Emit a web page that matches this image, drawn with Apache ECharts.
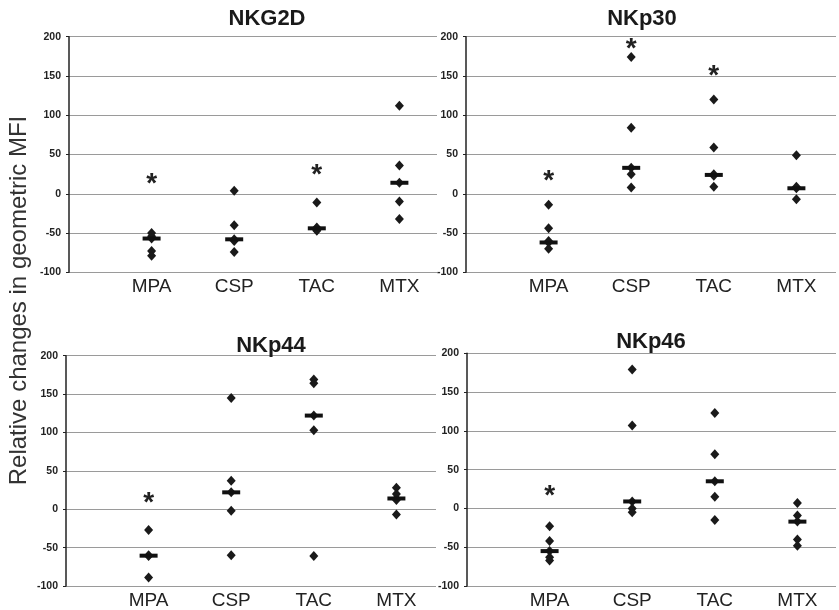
<!DOCTYPE html>
<html>
<head>
<meta charset="utf-8">
<script src="https://cdn.jsdelivr.net/npm/echarts@6/dist/echarts.min.js"></script>
<style>html,body{margin:0;padding:0;background:#fff}#c{width:839px;height:610px}</style>
</head>
<body>
<div id="c"></div>
<script>
const categories = ['MPA', 'CSP', 'TAC', 'MTX'];
const panelTitles = ['NKG2D', 'NKp30', 'NKp44', 'NKp46'];
const yAxisName = 'Relative changes in geometric MFI';
const yMin = -100, yMax = 200, yStep = 50;

// individual values per category (MPA, CSP, TAC, MTX)
const nkg2dPoints = [[-50, -54, -57, -73, -79], [4, -40, -58, -60, -74], [-11, -43, -44, -46, -47], [112, 36, 14, -10, -32]];
const nkg2dMedians = [-57, -58, -44, 14];
const nkg2dStars = [21, null, 33, null];

const nkp30Points = [[-14, -44, -60, -62, -70], [174, 84, 33, 25, 8], [120, 59, 25, 23, 9], [49, 9, 7, -7]];
const nkp30Medians = [-62, 33, 24, 7];
const nkp30Stars = [25, 193, 159, null];

const nkp44Points = [[-27, -60, -61, -89], [145, 37, 22, -2, -60], [169, 164, 122, 103, -61], [28, 20, 14, 12, -7]];
const nkp44Medians = [-60.5, 22, 122, 14];
const nkp44Stars = [17, null, null, null];

const nkp46Points = [[-23, -42, -55, -63, -67], [179, 107, 9, 0, -5], [123, 70, 35, 15, -15], [7, -9, -17, -40, -48]];
const nkp46Medians = [-55, 9, 35, -17];
const nkp46Stars = [25, null, null, null];

const panelData = [
  [nkg2dPoints, nkg2dMedians, nkg2dStars],
  [nkp30Points, nkp30Medians, nkp30Stars],
  [nkp44Points, nkp44Medians, nkp44Stars],
  [nkp46Points, nkp46Medians, nkp46Stars]
];

// layout
const grids = [
  {left: 69, top: 36.7, width: 368, height: 235.6},
  {left: 466, top: 36.7, width: 370, height: 235.6},
  {left: 66, top: 355.7, width: 370, height: 232.6},
  {left: 467, top: 353.3, width: 369, height: 234}
];
const titlePos = [[262, 3], [637, 3], [266, 330], [646, 326]];

const font = '"Liberation Sans", Arial, sans-serif';
const option = {
  animation: false,
  backgroundColor: '#fff',
  title: panelTitles.map((t, i) => ({
    text: t, left: titlePos[i][0], top: titlePos[i][1], textAlign: 'center',
    textStyle: {fontFamily: font, fontSize: 22, fontWeight: 'bold', color: '#1a1a1a'}
  })),
  grid: grids.map(g => Object.assign({containLabel: false}, g)),
  xAxis: grids.map((g, i) => ({
    type: 'value', gridIndex: i, min: 0, max: g.width / 82.6, interval: 1,
    axisLine: {show: false}, axisTick: {show: false}, splitLine: {show: false},
    axisLabel: {
      margin: 5, fontFamily: font, fontSize: 19, color: '#222',
      formatter: v => categories[Math.round(v) - 1] || ''
    }
  })),
  yAxis: grids.map((g, i) => ({
    type: 'value', gridIndex: i, min: yMin, max: yMax, interval: yStep,
    axisLine: {show: true, lineStyle: {color: '#222', width: 1.5}},
    axisTick: {show: true, length: 3, lineStyle: {color: '#222'}},
    splitLine: {show: true, lineStyle: {color: '#9a9a9a', width: 1}},
    axisLabel: {margin: 8, fontFamily: font, fontSize: 10.5, fontWeight: 'bold', color: '#222'}
  })),
  graphic: [{
    type: 'text', x: 19, y: 300.5, rotation: Math.PI / 2,
    style: {text: yAxisName, font: '24px "Liberation Sans", Arial, sans-serif', fill: '#333',
            textAlign: 'center', textVerticalAlign: 'middle'}
  }],
  series: []
};

panelData.forEach(([pts, meds, stars], i) => {
  const pointData = [];
  pts.forEach((arr, c) => arr.forEach(v => pointData.push([c + 1, v])));
  option.series.push({
    type: 'scatter', xAxisIndex: i, yAxisIndex: i, data: pointData,
    symbol: 'diamond', symbolSize: [9, 10], itemStyle: {color: '#1a1a1a', opacity: 1}, z: 3
  });
  option.series.push({
    type: 'scatter', xAxisIndex: i, yAxisIndex: i,
    data: meds.map((v, c) => [c + 1, v]),
    symbol: 'rect', symbolSize: [18, 4], itemStyle: {color: '#111', opacity: 1}, z: 4
  });
  const starData = [];
  stars.forEach((v, c) => { if (v !== null) starData.push([c + 1, v]); });
  option.series.push({
    type: 'scatter', xAxisIndex: i, yAxisIndex: i, data: starData,
    symbol: 'circle', symbolSize: 1, itemStyle: {color: 'rgba(0,0,0,0)', opacity: 1}, z: 5,
    label: {show: true, formatter: '*', position: 'inside', fontFamily: font,
            fontSize: 28, fontWeight: 'bold', color: '#222', offset: [0, 7]}
  });
});

const chart = echarts.init(document.getElementById('c'), null, {renderer: 'canvas'});
chart.setOption(option);
</script>
</body>
</html>
